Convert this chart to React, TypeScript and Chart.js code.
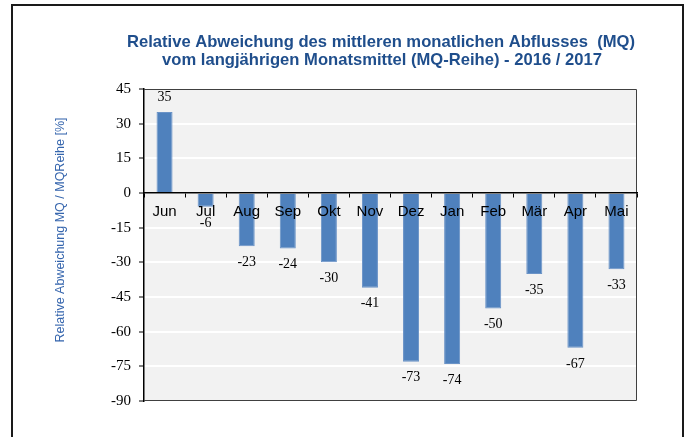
import React, { useEffect, useRef } from "react";
import { Chart, registerables } from "chart.js";

Chart.register(...registerables);

const categories = ["Jun", "Jul", "Aug", "Sep", "Okt", "Nov", "Dez", "Jan", "Feb", "Mär", "Apr", "Mai"];
const deviation = [35, -6, -23, -24, -30, -41, -73, -74, -50, -35, -67, -33];
const yMin = -90;
const yMax = 45;
const yStep = 15;
const titleLines = [
  "Relative Abweichung des mittleren monatlichen Abflusses  (MQ)",
  "vom langjährigen Monatsmittel (MQ-Reihe) - 2016 / 2017",
];
const yTitle = "Relative Abweichung MQ / MQReihe [%]";

const decorPlugin = {
  id: "decor",
  beforeDraw(chart: any) {
    const { ctx, chartArea } = chart;
    ctx.save();
    ctx.fillStyle = "#ffffff";
    ctx.fillRect(0, 0, chart.width, chart.height);
    // outer frame
    ctx.strokeStyle = "#1a1a1a";
    ctx.lineWidth = 2;
    ctx.beginPath();
    ctx.moveTo(12, 440);
    ctx.lineTo(12, 5);
    ctx.lineTo(683, 5);
    ctx.lineTo(683, 440);
    ctx.stroke();
    // plot background
    ctx.fillStyle = "#f2f2f2";
    ctx.fillRect(chartArea.left, chartArea.top, chartArea.right - chartArea.left, chartArea.bottom - chartArea.top);
    ctx.restore();
  },
  afterDatasetsDraw(chart: any) {
    const { ctx, chartArea } = chart;
    ctx.save();
    ctx.strokeStyle = "#404040";
    ctx.lineWidth = 1;
    ctx.beginPath();
    ctx.moveTo(chartArea.left, chartArea.top + 0.5);
    ctx.lineTo(chartArea.right - 0.5, chartArea.top + 0.5);
    ctx.lineTo(chartArea.right - 0.5, chartArea.bottom - 0.5);
    ctx.lineTo(chartArea.left, chartArea.bottom - 0.5);
    ctx.stroke();

    // data labels
    const meta = chart.getDatasetMeta(0);
    const data = chart.data.datasets[0].data as number[];
    ctx.fillStyle = "#000000";
    ctx.font = "14px 'Liberation Serif', serif";
    ctx.textAlign = "center";
    ctx.textBaseline = "middle";
    meta.data.forEach((bar: any, i: number) => {
      const v = data[i];
      const y = v >= 0 ? bar.y - 15 : bar.y + 16;
      ctx.fillText(String(v), bar.x, y);
    });

    // title
    ctx.fillStyle = "#1f4e8c";
    ctx.font = "bold 16.6px 'Liberation Sans', Arial, sans-serif";
    ctx.fillText(titleLines[0], 381, 42);
    ctx.fillText(titleLines[1], 382, 60);

    // y axis title
    ctx.save();
    ctx.translate(61, 230);
    ctx.rotate(-Math.PI / 2);
    ctx.fillStyle = "#3565ad";
    ctx.font = "12.5px 'Liberation Sans', Arial, sans-serif";
    ctx.fillText(yTitle, 0, 0);
    ctx.restore();
    ctx.restore();
  },
};

export default function App() {
  const ref = useRef<HTMLCanvasElement>(null);
  useEffect(() => {
    if (!ref.current) return;
    const chart = new Chart(ref.current, {
      type: "bar",
      data: {
        labels: categories,
        datasets: [
          {
            data: deviation,
            backgroundColor: "#4f81bd",
            borderColor: "#6a93c7",
            borderWidth: 1,
            categoryPercentage: 1,
            barPercentage: 0.39,
          },
        ],
      },
      options: {
        animation: false,
        responsive: false,
        layout: { padding: { left: 0, top: 89, right: 49, bottom: 36 } },
        plugins: { legend: { display: false }, tooltip: { enabled: false }, title: { display: false } },
        scales: {
          x: {
            type: "category",
            position: { y: 0 } as any,
            afterFit: (s: any) => {
              s.height = 0;
            },
            grid: {
              display: true,
              drawOnChartArea: false,
              drawTicks: true,
              tickLength: 4,
              tickColor: "#000000",
              offset: true,
              z: 1,
            } as any,
            border: { display: true, color: "#000000", width: 1.5, z: 1 } as any,
            ticks: {
              color: "#000000",
              padding: 6,
              z: 1,
              font: { family: "'Liberation Sans', Arial, sans-serif", size: 15 },
              maxRotation: 0,
              autoSkip: false,
            },
          },
          y: {
            min: yMin,
            max: yMax,
            afterFit: (s: any) => {
              s.width = 144;
            },
            grid: {
              color: "#ffffff",
              lineWidth: 2,
              tickColor: "#000000",
              tickLength: 5,
              tickWidth: 1,
            },
            border: { display: true, color: "#000000", width: 1.5 },
            ticks: {
              stepSize: yStep,
              color: "#000000",
              padding: 8,
              font: { family: "'Liberation Serif', 'Times New Roman', serif", size: 15 },
            },
          },
        },
      },
      plugins: [decorPlugin],
    });
    return () => chart.destroy();
  }, []);
  return (
    <div style={{ position: "absolute", left: 0, top: 0, width: 686, height: 437 }}>
      <canvas ref={ref} width={686} height={437} style={{ display: "block" }} />
    </div>
  );
}
